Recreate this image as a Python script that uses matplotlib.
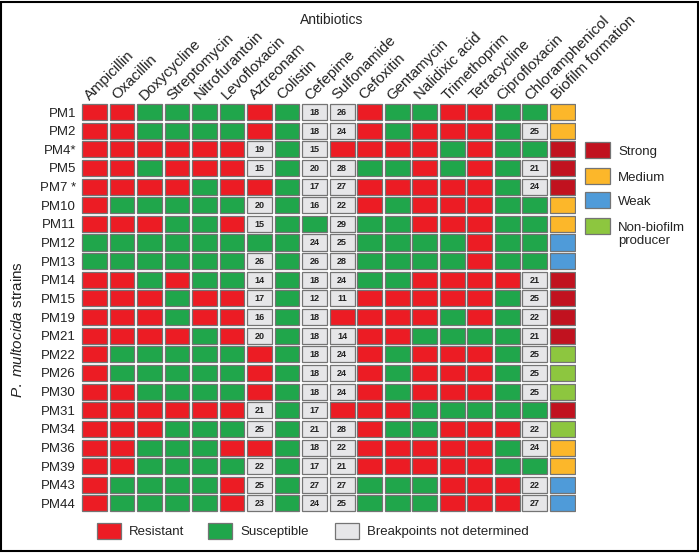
import matplotlib
matplotlib.use("Agg")
import matplotlib.pyplot as plt
from matplotlib.patches import Rectangle

plt.rcParams['font.family'] = ['Liberation Sans', 'DejaVu Sans']
plt.rcParams['mathtext.fontset'] = 'custom'
plt.rcParams['mathtext.it'] = 'Liberation Sans:italic'
plt.rcParams['mathtext.rm'] = 'Liberation Sans'

antibiotics = ["Ampicillin", "Oxacillin", "Doxycycline", "Streptomycin", "Nitrofurantoin",
               "Levofloxacin", "Aztreonam", "Colistin", "Cefepime", "Sulfonamide", "Cefoxitin",
               "Gentamycin", "Nalidixic acid", "Trimethoprim", "Tetracycline", "Ciprofloxacin",
               "Chloramphenicol"]

strains = ["PM1", "PM2", "PM4*", "PM5", "PM7 *", "PM10", "PM11", "PM12", "PM13", "PM14", "PM15",
           "PM19", "PM21", "PM22", "PM26", "PM30", "PM31", "PM34", "PM36", "PM39", "PM43", "PM44"]

# R = resistant, S = susceptible, number = zone diameter (breakpoints not determined)
results = [
    "R R S S S S R S 18 26 R S S R R S S",
    "R R S S S S R S 18 24 R S R R R S 25",
    "R R R R R R 19 S 15 R R R R S R S S",
    "R R S R R R 15 S 20 28 S S R S R S 21",
    "R R R R S R R S 17 27 R R R R R S 24",
    "R S S S S S 20 S 16 22 R S R R R S S",
    "R R R S S R 15 S S 29 S S R R R S S",
    "S S S S S S S S 24 25 S S S S R S S",
    "S S S S S S 26 S 26 28 S S S S R S S",
    "R R S R S S 14 S 18 24 S S R R R R 21",
    "R R R S R R 17 S 12 11 R R R R R S 25",
    "R R R S R R 16 S 18 R R R R S R S 22",
    "R R R R S R 20 S 18 14 R R S S S S 21",
    "R S S S S S R S 18 24 R S R R R S 25",
    "R S S S S S R S 18 24 R S R R R S 25",
    "R R S S S S R S 18 24 R S R R R S 25",
    "R R R R R R 21 S 17 R R R S S S S S",
    "R R R S S S 25 S 21 28 R S S R R R 22",
    "R R S S S R R S 18 22 R R R R R S 24",
    "R R S S S S 22 S 17 21 R R R R R S S",
    "R S S S S R 25 S 27 27 S S S R R R 22",
    "R S S S S R 23 S 24 25 S S S R R R 27",
]

biofilm = ["Medium", "Medium", "Strong", "Strong", "Strong", "Medium", "Medium", "Weak", "Weak",
           "Strong", "Strong", "Strong", "Strong", "Non", "Non", "Non", "Strong", "Non",
           "Medium", "Medium", "Weak", "Weak"]

biofilm_levels = ["Strong", "Medium", "Weak", "Non"]
biofilm_labels = ["Strong", "Medium", "Weak", "Non-biofilm\nproducer"]

RED = "#ec1c24"
GREEN = "#20a64b"
GREY = "#e6e6e8"
bio_colors = {"Strong": "#c1121f", "Medium": "#fcb72a", "Weak": "#4f9bd9", "Non": "#8dc63f"}
EDGE = "#747474"

W, H = 699, 554
fig = plt.figure(figsize=(W / 100, H / 100), dpi=100)


def fx(px):
    return px / W


def fy(py):
    return 1 - py / H


ax = fig.add_axes([fx(80.75), fy(512.8), fx(576) - fx(80.75), fy(102.7) - fy(512.8)])
ncol = len(antibiotics) + 1
ax.set_xlim(-0.5, ncol - 0.5)
ax.set_ylim(len(strains) - 0.5, -0.5)

cw, ch = 0.9, 0.86
for r, row in enumerate(results):
    for c, val in enumerate(row.split()):
        if val == "R":
            col = RED
        elif val == "S":
            col = GREEN
        else:
            col = GREY
        ax.add_patch(Rectangle((c - cw / 2, r - ch / 2), cw, ch, facecolor=col,
                               edgecolor=EDGE, lw=0.9))
        if val not in ("R", "S"):
            ax.text(c, r + 0.02, val, ha="center", va="center", fontsize=6.5,
                    fontweight="bold", color="#222222")
    ax.add_patch(Rectangle((ncol - 1 - cw / 2, r - ch / 2), cw, ch,
                           facecolor=bio_colors[biofilm[r]], edgecolor=EDGE, lw=0.9))

for spine in ax.spines.values():
    spine.set_visible(False)
ax.set_xticks([])
ax.set_yticks(range(len(strains)))
ax.set_yticklabels(strains, fontsize=9.5, color="#222222")
ax.tick_params(axis="y", length=0, pad=3.5)

col_labels = antibiotics + ["Biofilm formation"]
for c, lab in enumerate(col_labels):
    ax.text(c - 0.18, -0.62, lab, rotation=45, rotation_mode="anchor", ha="left",
            va="baseline", fontsize=10.8, color="#222222")

fig.text(fx(332), fy(20), "Antibiotics", ha="center", va="center", fontsize=10,
         color="#222222")
fig.text(fx(18), fy(330), r"$\it{P.\ multocida}$ strains", rotation=90, ha="center",
         va="center", fontsize=11, color="#222222")

# right legend (biofilm)
leg_y = [142, 168, 192, 218]
for lvl, lab, y0 in zip(biofilm_levels, biofilm_labels, leg_y):
    fig.add_artist(Rectangle((fx(585), fy(y0 + 16)), fx(610) - fx(585), fy(y0) - fy(y0 + 16),
                             transform=fig.transFigure, facecolor=bio_colors[lvl],
                             edgecolor=EDGE, lw=0.9))
    fig.text(fx(618), fy(y0 + 4), lab, ha="left", va="top", fontsize=9.5,
             color="#222222", linespacing=1.15)

# bottom legend
bot = [("Resistant", RED, 97, 129), ("Susceptible", GREEN, 208, 240),
       ("Breakpoints not determined", GREY, 335, 367)]
for lab, colr, x0, tx in bot:
    fig.add_artist(Rectangle((fx(x0), fy(539)), fx(x0 + 24) - fx(x0), fy(523) - fy(539),
                             transform=fig.transFigure, facecolor=colr, edgecolor=EDGE,
                             lw=0.9))
    fig.text(fx(tx), fy(532), lab, ha="left", va="center", fontsize=9.5, color="#222222")

# outer frame
fig.add_artist(Rectangle((0.002, 0.006), 0.996, 0.991, transform=fig.transFigure,
                         fill=False, edgecolor="black", lw=1.5))

fig.savefig("out.png", dpi=100)
